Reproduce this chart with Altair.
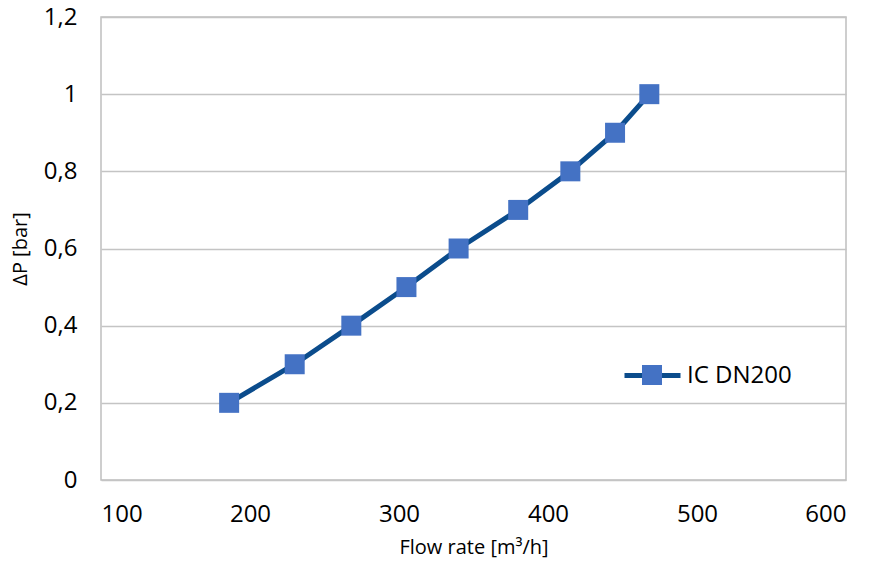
import altair as alt
import pandas as pd

flow = [186, 230, 268, 305, 340, 380, 415, 445, 468]
dp = [0.2, 0.3, 0.4, 0.5, 0.6, 0.7, 0.8, 0.9, 1.0]
series_name = "IC DN200"
x_ticks = [100, 200, 300, 400, 500, 600]
y_ticks = [0, 0.2, 0.4, 0.6, 0.8, 1.0, 1.2]

df = pd.DataFrame({"flow": flow, "dp": dp, "series": [series_name] * len(flow)})

FONT = "Open Sans"
LINE_COLOR = "#0B4C8C"
MARK_COLOR = "#4472C4"

x = alt.X("flow:Q", scale=alt.Scale(domain=[100, 600], nice=False),
          axis=alt.Axis(values=x_ticks, title="Flow rate [m³/h]", grid=False,
                        ticks=False, domain=False, labelPadding=22,
                        titlePadding=11))
y = alt.Y("dp:Q", scale=alt.Scale(domain=[0, 1.2], nice=False),
          axis=alt.Axis(values=y_ticks, title="ΔP [bar]", grid=True,
                        ticks=False, domain=False, labelPadding=24,
                        titlePadding=13,
                        labelExpr="replace(format(datum.value, ''), '.', ',')"))

line = alt.Chart(df).mark_line(strokeWidth=5).encode(
    x=x, y=y,
    color=alt.Color("series:N",
                    scale=alt.Scale(domain=[series_name], range=[LINE_COLOR]),
                    legend=alt.Legend(title=None, orient="none", legendX=521,
                                      legendY=328, padding=0,
                                      symbolType="stroke", symbolSize=3136,
                                      symbolStrokeWidth=5, labelOffset=4,
                                      labelFontSize=24, labelFont=FONT,
                                      labelColor="#000000")),
)

points = alt.Chart(df).mark_point(shape="square", filled=True, size=400,
                                  opacity=1).encode(
    x=x, y=y,
    fill=alt.Fill("series:N",
                  scale=alt.Scale(domain=[series_name], range=[MARK_COLOR]),
                  legend=alt.Legend(title=None, orient="none", legendX=539,
                                    legendY=346, padding=0,
                                    symbolType="square", symbolSize=400,
                                    symbolStrokeWidth=0, symbolOpacity=1,
                                    labelOpacity=0, labelFontSize=24,
                                    labelFont=FONT)),
)

chart = alt.layer(line, points).resolve_legend(
    color="independent", fill="independent"
).properties(
    width=745, height=463,
    autosize=alt.AutoSizeParams(type="none"),
    padding={"left": 93, "top": 9, "right": 17, "bottom": 81},
).configure_view(
    stroke="#BFBFBF", strokeWidth=1.5
).configure_axis(
    labelFont=FONT, titleFont=FONT, labelFontSize=24, titleFontSize=20,
    labelColor="#000000", titleColor="#000000", titleFontWeight="normal",
    gridColor="#C4C4C4", gridWidth=1.3
)

chart.save("out.html", embed_options={"renderer": "svg", "actions": False})
